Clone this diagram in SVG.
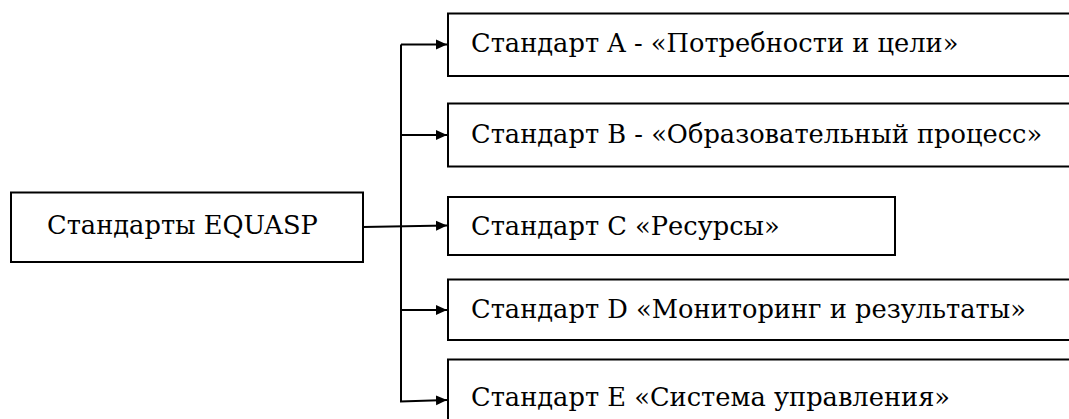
<svg xmlns="http://www.w3.org/2000/svg" width="1069" height="419" viewBox="0 0 1069 419">
<defs>
<marker id="arr" markerUnits="userSpaceOnUse" markerWidth="12" markerHeight="11" refX="11" refY="5.5" orient="auto">
<path d="M0,0.5 L11,5.5 L0,10.5 Z" fill="#000"/>
</marker>
<style>
.box{fill:#fff;stroke:#000;stroke-width:2}
text{font-family:"DejaVu Serif",serif;font-size:25.7px;fill:#000}
.c{fill:none;stroke:#000;stroke-width:2}
</style>
</defs>
<rect width="1069" height="419" fill="#fff"/>
<g id="connectors">
<path class="c" d="M401,44.5 V401"/>
<path class="c" d="M401,44.5 H447" marker-end="url(#arr)"/>
<path class="c" d="M401,135 H447" marker-end="url(#arr)"/>
<path class="c" d="M363,227 L447,225.5" marker-end="url(#arr)"/>
<path class="c" d="M401,310 H447" marker-end="url(#arr)"/>
<path class="c" d="M400,401.5 L447,400" marker-end="url(#arr)"/>
</g>
<g id="root">
<rect class="box" x="11" y="192.5" width="352" height="69.5"/>
<text x="47" y="234">Стандарты EQUASP</text>
</g>
<g id="stdA">
<rect class="box" x="448" y="13.5" width="630" height="62.5"/>
<text x="471" y="51.5">Стандарт A - «Потребности и цели»</text>
</g>
<g id="stdB">
<rect class="box" x="448" y="103.5" width="630" height="63"/>
<text x="471" y="142.5">Стандарт B - «Образовательный процесс»</text>
</g>
<g id="stdC">
<rect class="box" x="448" y="197" width="447" height="58"/>
<text x="471" y="234.5">Стандарт C «Ресурсы»</text>
</g>
<g id="stdD">
<rect class="box" x="448" y="279.5" width="630" height="60.5"/>
<text x="471" y="318">Стандарт D «Мониторинг и результаты»</text>
</g>
<g id="stdE">
<rect class="box" x="448" y="359.5" width="630" height="80"/>
<text x="471" y="406">Стандарт E «Система управления»</text>
</g>
</svg>
